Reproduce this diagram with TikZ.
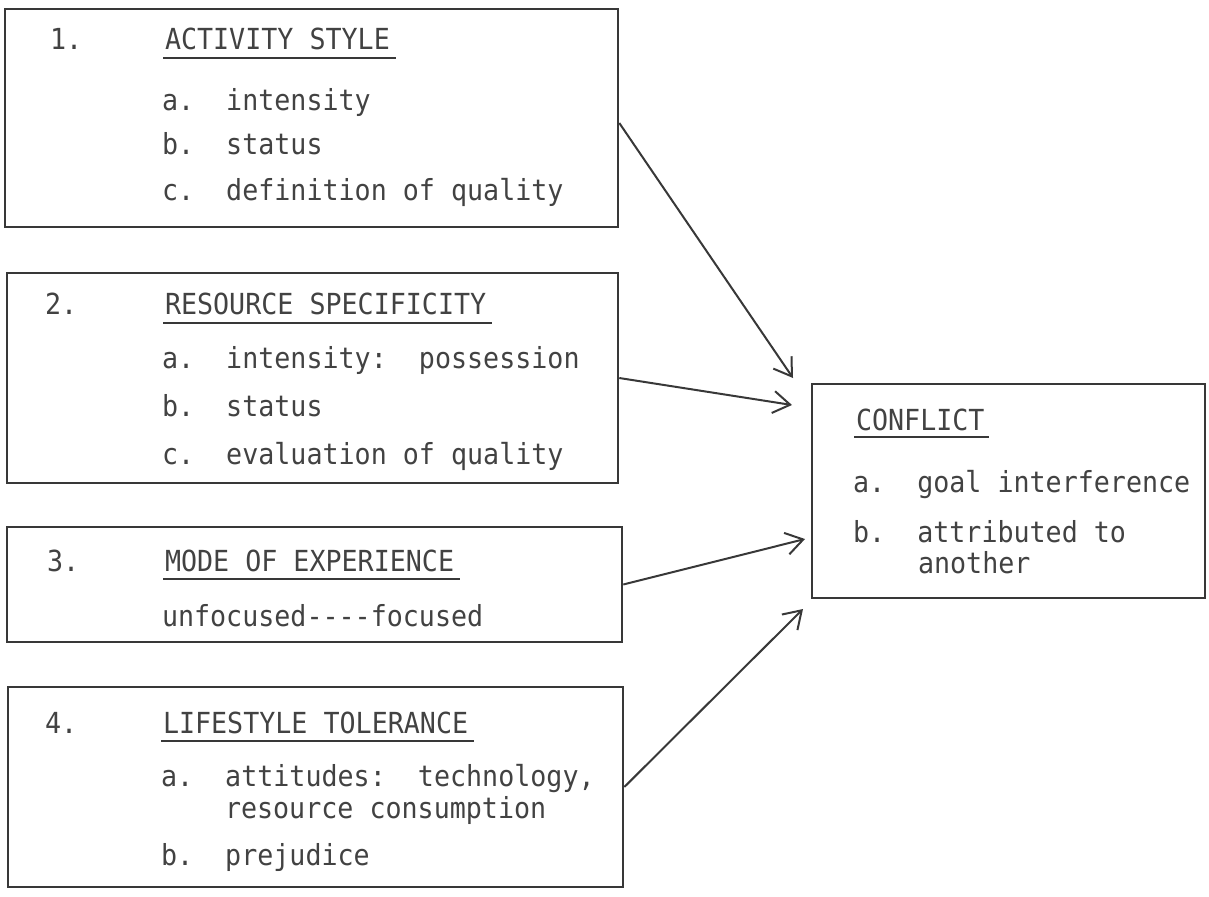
\documentclass[tikz,border=0pt]{standalone}
\usepackage{fontspec}
\newfontfamily\typew[FakeStretch=0.92]{DejaVu Sans Mono}
\usetikzlibrary{arrows.meta,fit,calc}
\definecolor{ink}{HTML}{383838}
\definecolor{tink}{HTML}{424242}
\begin{document}
\begin{tikzpicture}[x=0.5pt,y=-0.5pt,
  box/.style={draw=ink,line width=1.3pt,inner sep=0pt,rectangle},
  txt/.style={anchor=base west,inner sep=0pt,outer sep=0pt,text=tink,font=\typew\fontsize{14.5}{17}\selectfont},
  ul/.style={draw=ink,line width=0.9pt},
  arr/.style={draw=ink,line width=1pt,-{Straight Barb[length=8.5pt,width=11pt,line width=1pt]}}]
\useasboundingbox (0,0) rectangle (1209,896);

% box 1
\node[box,fit={(5,9)(618,227)}] (b1) {};
\node[txt] (n1) at (50,49) {1.};
\node[txt] (h1) at (165,49) {ACTIVITY STYLE};
\node[txt] (i1a) at (162,110) {a.\ \ intensity};
\node[txt] (i1b) at (162,154) {b.\ \ status};
\node[txt] (i1c) at (162,200) {c.\ \ definition of quality};
\draw[ul] ($(h1.base west)+(-2,9)$) -- ($(h1.base east)+(6,9)$);

% box 2
\node[box,fit={(7,273)(618,483)}] (b2) {};
\node[txt] (n2) at (45,314) {2.};
\node[txt] (h2) at (165,314) {RESOURCE SPECIFICITY};
\node[txt] (i2a) at (162,368) {a.\ \ intensity:\ \ possession};
\node[txt] (i2b) at (162,416) {b.\ \ status};
\node[txt] (i2c) at (162,464) {c.\ \ evaluation of quality};
\draw[ul] ($(h2.base west)+(-2,9)$) -- ($(h2.base east)+(6,9)$);

% box 3
\node[box,fit={(7,527)(622,642)}] (b3) {};
\node[txt] (n3) at (47,571) {3.};
\node[txt] (h3) at (165,571) {MODE OF EXPERIENCE};
\node[txt] (i3a) at (162,626) {unfocused----focused};
\draw[ul] ($(h3.base west)+(-2,8)$) -- ($(h3.base east)+(6,8)$);

% box 4
\node[box,fit={(8,687)(623,887)}] (b4) {};
\node[txt] (n4) at (45,733) {4.};
\node[txt] (h4) at (163,733) {LIFESTYLE TOLERANCE};
\node[txt] (i4a) at (161,786) {a.\ \ attitudes:\ \ technology,};
\node[txt] (i4a2) at (225,818) {resource consumption};
\node[txt] (i4b) at (161,865) {b.\ \ prejudice};
\draw[ul] ($(h4.base west)+(-2,8)$) -- ($(h4.base east)+(6,8)$);

% conflict box
\node[box,fit={(812,384)(1205,598)}] (cf) {};
\node[txt] (hc) at (856,430) {CONFLICT};
\node[txt] (ca) at (853,492) {a.\ \ goal interference};
\node[txt] (cb) at (853,542) {b.\ \ attributed to};
\node[txt] (cb2) at (918,573) {another};
\draw[ul] ($(hc.base west)+(-2,7)$) -- ($(hc.base east)+(4,7)$);

% arrow tips
\coordinate (t1) at (793,378);
\coordinate (t2) at (792,405);
\coordinate (t3) at (805,539);
\coordinate (t4) at (803,609);

\draw[arr] ($(b1.east)+(0,5)$) -- (t1);
\draw[arr] (b2.east) -- (t2);
\draw[arr] (b3.east) -- (t3);
\draw[arr] (b4.east) -- (t4);
\end{tikzpicture}
\end{document}
